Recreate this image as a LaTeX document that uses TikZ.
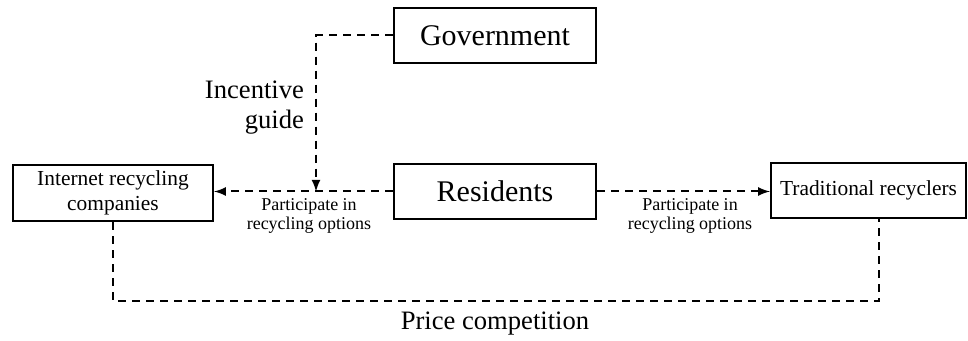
\documentclass[tikz,border=0pt]{standalone}
\usepackage{fontspec}
\setmainfont{Liberation Serif}
\begin{document}
\begin{tikzpicture}[x=0.5pt, y=-0.5pt, >=latex,
  box/.style={draw, line width=1.2pt, inner sep=0pt, align=center},
  flow/.style={dash pattern=on 4pt off 3pt, line width=1pt}]

\def \bigtext {\fontsize{15}{17}\selectfont}
\def \midtext {\fontsize{10.7}{12.5}\selectfont}
\def \smalltext {\fontsize{9}{9.5}\selectfont}
\def \lbltext {\fontsize{13.3}{15}\selectfont}

\useasboundingbox (0,0) rectangle (968,341);

% boxes
\node[box, minimum width=101pt, minimum height=27.5pt, font=\bigtext] (gov) at (495,35.5) {Government};
\node[box, minimum width=101pt, minimum height=27.5pt, font=\bigtext] (res) at (495,191.5) {Residents};
\node[box, minimum width=100pt, minimum height=28pt, font=\midtext] (irc) at (113,193) {Internet recycling\\companies};
\node[box, minimum width=97.5pt, minimum height=27.5pt, font=\midtext] (trc) at (868.5,190.5) {Traditional recyclers};

% connectors
\coordinate (meet) at (316,191.5);
\coordinate (trcfoot) at (879,218);
\draw[flow, ->] (res.west) -- (res.west -| irc.east);
\draw[flow, ->] (res.east) -- (res.east -| trc.west);
\draw[flow, ->] (gov.west) -| (meet);
\draw[flow] (irc.south) -- (113,301) -| (trcfoot);

% labels
\node[font=\smalltext, align=center] (optleft) at (309,216) {Participate in\\recycling options};
\node[font=\smalltext, align=center] (optright) at (690,216) {Participate in\\recycling options};
\node[font=\lbltext, align=right, anchor=east] (incentive) at (311,108) {Incentive\\guide};
\node[font=\lbltext] (price) at (495,324) {Price competition};

\end{tikzpicture}
\end{document}
